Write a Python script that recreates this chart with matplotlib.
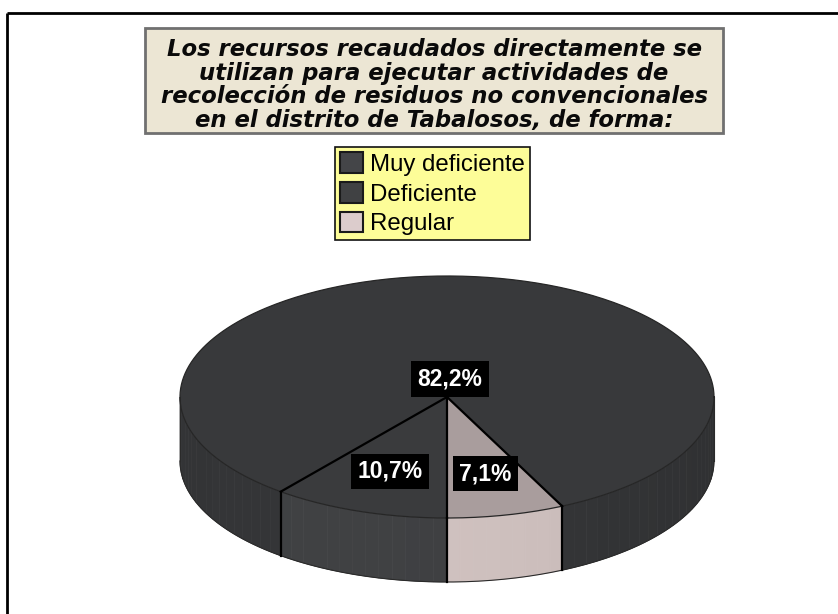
import numpy as np
import matplotlib.pyplot as plt
from matplotlib.patches import Polygon, Rectangle, Patch

# data
categorias = ['Muy deficiente', 'Deficiente', 'Regular']
porcentajes = [82.2, 10.7, 7.1]
etiquetas = ['82,2%', '10,7%', '7,1%']
col_top = ['#38393b', '#3a3b3d', '#a99d9d']
col_side = ['#333436', '#3e3f41', '#cbbdbb']
col_leg = ['#444548', '#404143', '#dccccc']
titulo = ('Los recursos recaudados directamente se\n'
          'utilizan para ejecutar actividades de\n'
          'recolección de residuos no convencionales\n'
          'en el distrito de Tabalosos, de forma:')

W, H = 838, 614
fig = plt.figure(figsize=(W / 100, H / 100), dpi=100)
ax = fig.add_axes([0, 0, 1, 1])
ax.set_xlim(0, W)
ax.set_ylim(H, 0)
ax.axis('off')

# frame lines (top and left)
ax.plot([7, W], [13, 13], color='black', lw=2, solid_capstyle='butt')
ax.plot([7, 7], [13, H], color='black', lw=2, solid_capstyle='butt')

# title box
ax.add_patch(Rectangle((145, 28), 578, 105, facecolor='#ece6d4',
                       edgecolor='#707070', lw=2))
ax.text(434, 85, titulo, ha='center', va='center', fontsize=16.4,
        fontweight='bold', style='italic', family='DejaVu Sans',
        linespacing=1.02, color='#0a0a0a')

# legend
handles = [Patch(facecolor=c, edgecolor='#1a1a1a', lw=1.5) for c in col_leg]
leg = ax.legend(handles, categorias, loc='upper left',
                bbox_to_anchor=(335 / W, 1 - 147 / H),
                bbox_transform=fig.transFigure,
                prop={'family': 'Liberation Sans', 'size': 17.3},
                fancybox=False, framealpha=1, borderaxespad=0,
                borderpad=0.22, handlelength=0.95, handleheight=0.95,
                handletextpad=0.3, labelspacing=0.25)
leg.get_frame().set_facecolor('#fdfd98')
leg.get_frame().set_edgecolor('#111111')
leg.get_frame().set_linewidth(1.2)

# 3D pie
cx, cy, a, b, dep = 447, 397, 267, 121, 64
vals = np.array(porcentajes)
ang = 360 * vals / vals.sum()
start = 270 + ang[-1]
bounds = start + np.concatenate([[0], np.cumsum(ang)])


def ell(t, dy=0):
    r = np.radians(t)
    return cx + a * np.cos(r), cy - b * np.sin(r) + dy


# sides (front half only)
for i in range(len(vals)):
    t1, t2 = bounds[i], bounds[i + 1]
    for f0, f1 in [(180, 360), (540, 720)]:
        s, e = max(t1, f0), min(t2, f1)
        if e <= s:
            continue
        edges = np.linspace(s, e, max(2, int((e - s) / 3) + 2))
        base = np.array(plt.matplotlib.colors.to_rgb(col_side[i]))
        for k in range(len(edges) - 1):
            tt = np.linspace(edges[k], edges[k + 1], 4)
            xs, ys = ell(tt)
            xb, yb = ell(tt[::-1], dep)
            mid = np.radians((edges[k] + edges[k + 1]) / 2)
            shade = 0.95 + 0.07 * (-np.sin(mid)) - 0.03 * np.cos(mid)
            c = np.clip(base * shade, 0, 1)
            ax.add_patch(Polygon(np.column_stack([np.r_[xs, xb], np.r_[ys, yb]]),
                                 closed=True, facecolor=c, edgecolor=c, lw=0.5))
# outer outline of sides
tt = np.linspace(180, 360, 200)
xs, ys = ell(tt, dep)
ax.plot(xs, ys, color='#2a2a2a', lw=0.8)
for t in [180, 360]:
    x0, y0 = ell(t)
    ax.plot([x0, x0], [y0, y0 + dep], color='#2a2a2a', lw=0.8)

# top face
for i in range(len(vals)):
    tt = np.linspace(bounds[i], bounds[i + 1], 200)
    xs, ys = ell(tt)
    ax.add_patch(Polygon(np.column_stack([np.r_[cx, xs], np.r_[cy, ys]]),
                         closed=True, facecolor=col_top[i], edgecolor='none'))
tt = np.linspace(0, 360, 400)
xs, ys = ell(tt)
ax.plot(xs, ys, color='#262626', lw=0.9)

# slice boundaries
for t in bounds[:-1]:
    x0, y0 = ell(t)
    ax.plot([cx, x0], [cy, y0], color='black', lw=1.6)
    if np.sin(np.radians(t)) < 0:
        ax.plot([x0, x0], [y0, y0 + dep], color='black', lw=1.6)

# labels
for i in range(len(vals)):
    if i == int(np.argmax(vals)):
        lx, ly = cx + 3, cy - 18
    else:
        m = np.radians((bounds[i] + bounds[i + 1]) / 2)
        lx, ly = cx + 0.65 * a * np.cos(m), cy - 0.65 * b * np.sin(m)
    ax.text(lx, ly, etiquetas[i], ha='center', va='center', color='white',
            fontsize=16.5, fontweight='bold', family='Liberation Sans',
            bbox=dict(facecolor='black', edgecolor='none', pad=4.5))

fig.savefig('out.png', dpi=100)
